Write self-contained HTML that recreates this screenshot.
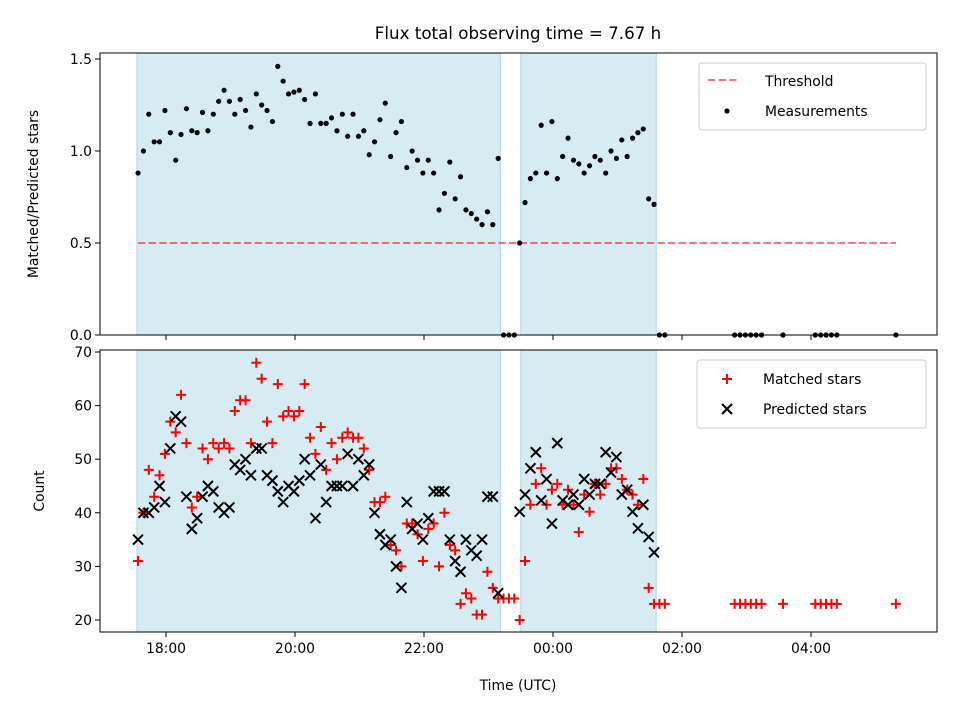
<!DOCTYPE html>
<html><head><meta charset="utf-8"><style>
html,body{margin:0;padding:0;background:#fff;}
svg{display:block;font-family:"DejaVu Sans","Liberation Sans",sans-serif;}
</style></head><body>
<svg id="chart" width="960" height="720" viewBox="0 0 960 720" xmlns="http://www.w3.org/2000/svg">
<rect x="0" y="0" width="960" height="720" fill="#fff"/>
<g id="layer"></g>
</svg>
<script>
// time in minutes after 17:00
const times = [34,39,44,49,54,59,64,69,74,79,84,89,94,99,104,109,114,119,124,129,134,139,144,149,154,159,164,169,174,179,184,189,194,199,204,209,214,219,224,229,234,239,244,249,254,259,264,269,274,279,284,289,294,299,304,309,314,319,324,329,334,339,344,349,354,359,364,369,374,379,384,389,394,399,404,409,414,419,424,429,434,439,444,449,454,459,464,469,474,479,484,489,494,499,504,509,514,519,524,589,594,599,604,609,614,634,664,669,674,679,684,739];
const ratio = [0.88,1.0,1.2,1.05,1.05,1.22,1.10,0.95,1.09,1.23,1.11,1.10,1.21,1.11,1.20,1.27,1.33,1.27,1.20,1.28,1.22,1.13,1.31,1.25,1.22,1.16,1.46,1.38,1.31,1.32,1.33,1.28,1.15,1.31,1.15,1.15,1.18,1.11,1.20,1.08,1.20,1.08,1.11,0.98,1.05,1.17,1.26,0.97,1.10,1.16,0.91,1.0,0.95,0.88,0.95,0.88,0.68,0.77,0.94,0.74,0.86,0.68,0.66,0.63,0.60,0.67,0.60,0.96,
0,0,0,0.5,
0.72,0.85,0.88,1.14,0.88,1.16,0.85,0.97,1.07,0.95,0.93,0.88,0.92,0.97,0.95,0.88,1.0,0.96,1.06,0.97,1.07,1.1,1.12,0.74,0.71,
0,0,0,0,0,0,0,0,0,0,0,0,0,0,0];
const matched = [31,40,48,43,47,51,57,55,62,53,41,43,52,50,53,52,53,52,59,61,61,53,68,65,57,53,64,58,59,58,59,64,54,51,56,48,53,50,54,55,54,54,52,48,42,42,43,34,33,30,38,38,36,31,37,38,30,40,34,33,23,25,24,21,21,29,26,24,
24,24,24,20,
31,41.5,45.4,48.3,41.5,44.3,45.4,41.5,44.3,41.5,36.4,43.4,40.2,45.4,43.4,45.4,48.3,48.3,46.3,44.3,43.4,41.5,46.3,26,23,
23,23,23,23,23,23,23,23,23,23,23,23,23,23,23];
const predicted = [35,40,40,41,45,42,52,58,57,43,37,39,43,45,44,41,40,41,49,48,50,47,52,52,47,46,44,42,45,44,46,50,47,39,49,42,45,45,45,51,45,50,47,49,40,36,34,35,30,26,42,37,38,35,39,44,44,44,35,31,29,35,33,32,35,43,43,25,
null,null,null,40.2,
43.4,48.3,51.3,42.3,46.3,38.0,53,42.3,41.5,43.4,41.5,46.3,43.4,45.4,45.4,51.3,47.5,50.4,43.4,44.3,40.2,37.1,41.5,35.5,32.6,
null,null,null,null,null,null,null,null,null,null,null,null,null,null,null];
const shadeSpans = [[33,371],[390,516]];
const thresholdValue = 0.5;
const thresholdRange = [34,739];
const xTickMinutes = [60,180,300,420,540,660];
const xTickLabels = ["18:00","20:00","22:00","00:00","02:00","04:00"];
const topYTicks = [0.0,0.5,1.0,1.5];
const topYLabels = ["0.0","0.5","1.0","1.5"];
const botYTicks = [20,30,40,50,60,70];

const NS="http://www.w3.org/2000/svg";
const L=document.getElementById('layer');
function mk(tag,attrs,parent){const e=document.createElementNS(NS,tag);for(const k in attrs)e.setAttribute(k,attrs[k]);(parent||L).appendChild(e);return e;}
const X=m=>166+(m-60)/60*64.5;
const YT=v=>335-v*184;
const YB=c=>620-(c-20)*5.36;
const AX={l:100,r:937};
const TOP={t:53,b:335}, BOT={t:350,b:632};

function panel(P,name){
  shadeSpans.forEach((s,i)=>{
    const r=mk('rect',{x:X(s[0]),y:P.t,width:X(s[1])-X(s[0]),height:P.b-P.t,fill:'#add8e6','fill-opacity':0.5,stroke:'#add8e6','stroke-width':1});
    
    
  });
}
panel(TOP,'top');panel(BOT,'bottom');

const th=mk('line',{x1:X(thresholdRange[0]),x2:X(thresholdRange[1]),y1:YT(thresholdValue),y2:YT(thresholdValue),stroke:'#ff0000','stroke-opacity':0.55,'stroke-width':2,'stroke-dasharray':'7.4,3.2'});



times.forEach((t,i)=>{
  if(ratio[i]==null)return;
  const c=mk('circle',{cx:X(t),cy:YT(ratio[i]),r:2.6,fill:'#000'});
  
  
});
times.forEach((t,i)=>{
  if(matched[i]==null)return;
  const x=X(t),y=YB(matched[i]);
  const p=mk('path',{d:`M${x-5},${y}H${x+5}M${x},${y-5}V${y+5}`,stroke:'#ff0000','stroke-width':2,fill:'none'});
  
  
});
times.forEach((t,i)=>{
  if(predicted[i]==null)return;
  const x=X(t),y=YB(predicted[i]);
  const p=mk('path',{d:`M${x-5},${y-5}L${x+5},${y+5}M${x-5},${y+5}L${x+5},${y-5}`,stroke:'#000','stroke-width':2,fill:'none'});
  
  
});

[[TOP,'top'],[BOT,'bottom']].forEach(([P,n])=>{
  const f=mk('rect',{x:AX.l,y:P.t,width:AX.r-AX.l,height:P.b-P.t,fill:'none',stroke:'#000','stroke-width':1});
  
  
  xTickMinutes.forEach((m,i)=>{
    const tk=mk('line',{x1:X(m),x2:X(m),y1:P.b,y2:P.b+5,stroke:'#000','stroke-width':1});
    
    
    if(n==='bottom'){
      const tl=mk('text',{x:X(m),y:P.b+21,'text-anchor':'middle','font-size':13.9,fill:'#000'});
      tl.textContent=xTickLabels[i];
      
      
    }
  });
});
topYTicks.forEach((v,i)=>{
  const tk=mk('line',{x1:AX.l-5,x2:AX.l,y1:YT(v),y2:YT(v),stroke:'#000'});
  
  
  const tl=mk('text',{x:AX.l-8,y:YT(v)+5,'text-anchor':'end','font-size':13.9});
  tl.textContent=topYLabels[i];
  
  
});
botYTicks.forEach(v=>{
  const tk=mk('line',{x1:AX.l-5,x2:AX.l,y1:YB(v),y2:YB(v),stroke:'#000'});
  
  
  const tl=mk('text',{x:AX.l-8,y:YB(v)+5,'text-anchor':'end','font-size':13.9});
  tl.textContent=String(v);
  
  
});
</script>
<svg style="position:absolute;left:0;top:0" width="960" height="720">
<text x="518" y="39" text-anchor="middle" font-size="16.7">Flux total observing time = 7.67 h</text>
<text x="518" y="690" text-anchor="middle" font-size="13.9">Time (UTC)</text>
<text transform="translate(38,194) rotate(-90)" text-anchor="middle" font-size="13.9">Matched/Predicted stars</text>
<text transform="translate(44,491) rotate(-90)" text-anchor="middle" font-size="13.9">Count</text>
<g>
<rect x="699" y="63" width="227" height="67" rx="3" fill="#fff" fill-opacity="0.8" stroke="#ccc"/>
<line x1="708" y1="80" x2="737" y2="80" stroke="#ff0000" stroke-opacity="0.55" stroke-width="2" stroke-dasharray="7.4,3.2"/>
<text x="765" y="86" font-size="13.9">Threshold</text>
<circle cx="727" cy="111" r="2.6" fill="#000"/>
<text x="765" y="116" font-size="13.9">Measurements</text>
</g>
<g>
<rect x="697" y="360" width="229" height="68" rx="3" fill="#fff" fill-opacity="0.8" stroke="#ccc"/>
<path d="M722,379H732M727,374V384" stroke="#ff0000" stroke-width="2"/>
<text x="763" y="384" font-size="13.9">Matched stars</text>
<path d="M722,404L732,414M722,414L732,404" stroke="#000" stroke-width="2"/>
<text x="763" y="414" font-size="13.9">Predicted stars</text>
</g>
</svg>
</body></html>
